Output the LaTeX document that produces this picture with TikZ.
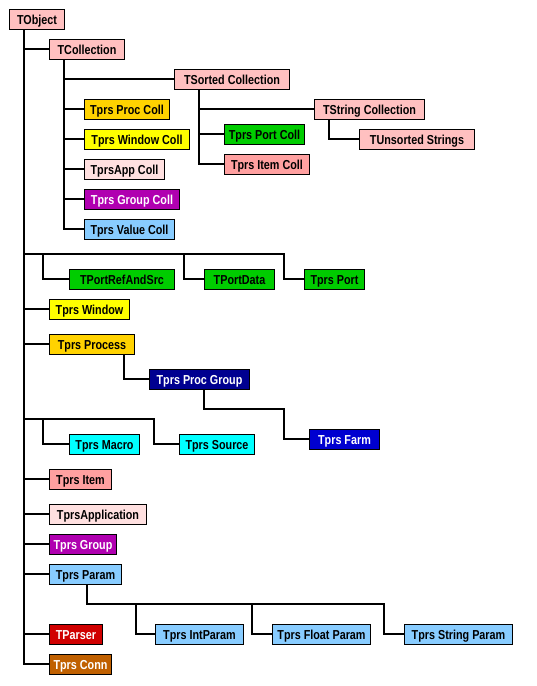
\documentclass[tikz,border=0pt]{standalone}
\usepackage{fontspec}
\setmainfont{Liberation Sans}[FakeStretch=0.83]
\definecolor{cpink}{HTML}{FFC0C0}
\definecolor{cgold}{HTML}{FFD200}
\definecolor{cyel}{HTML}{FFFF00}
\definecolor{clpink}{HTML}{FFE0E0}
\definecolor{cmag}{HTML}{B000B0}
\definecolor{cblue}{HTML}{88CCFF}
\definecolor{cgreen}{HTML}{00CC00}
\definecolor{csalmon}{HTML}{FFA0A0}
\definecolor{cnavy}{HTML}{000090}
\definecolor{croyal}{HTML}{0000D0}
\definecolor{ccyan}{HTML}{00FFFF}
\definecolor{cred}{HTML}{D00000}
\definecolor{cbrown}{HTML}{C06000}
\tikzset{
  cls/.style={draw=black, line width=1pt, anchor=west, minimum height=20pt, inner sep=0pt,
    text height=13.5pt, text depth=2pt,
    font=\fontsize{13}{15}\selectfont\bfseries, text=black},
  wtext/.style={text=white},
  conn/.style={line width=2.2pt, line join=miter}
}
\begin{document}
\begin{tikzpicture}[x=1pt,y=-1pt]
\useasboundingbox[fill=white] (0,0) rectangle (536,686);
% nodes
\node[cls,fill=cpink,minimum width=55pt] (TObject) at (9,19) {TObject};
\node[cls,fill=cpink,minimum width=75pt] (TCollection) at (49,49) {TCollection};
\node[cls,fill=cpink,minimum width=115pt] (TSortedCollection) at (174,79) {TSorted Collection};
\node[cls,fill=cgold,minimum width=85pt] (TprsProcColl) at (84,109) {Tprs Proc Coll};
\node[cls,fill=cyel,minimum width=105pt] (TprsWindowColl) at (84,139) {Tprs Window Coll};
\node[cls,fill=clpink,minimum width=80pt] (TprsAppColl) at (84,169) {TprsApp Coll};
\node[cls,fill=cmag,wtext,minimum width=95pt] (TprsGroupColl) at (84,199) {Tprs Group Coll};
\node[cls,fill=cblue,minimum width=90pt] (TprsValueColl) at (84,229) {Tprs Value Coll};
\node[cls,fill=cpink,minimum width=110pt] (TStringCollection) at (314,109) {TString Collection};
\node[cls,fill=cpink,minimum width=115pt] (TUnsortedStrings) at (359,139) {TUnsorted Strings};
\node[cls,fill=cgreen,minimum width=80pt] (TprsPortColl) at (224,134) {Tprs Port Coll};
\node[cls,fill=csalmon,minimum width=85pt] (TprsItemColl) at (224,164) {Tprs Item Coll};
\node[cls,fill=cgreen,minimum width=105pt] (TPortRefAndSrc) at (69,279) {TPortRefAndSrc};
\node[cls,fill=cgreen,minimum width=70pt] (TPortData) at (204,279) {TPortData};
\node[cls,fill=cgreen,minimum width=60pt] (TprsPort) at (304,279) {Tprs Port};
\node[cls,fill=cyel,minimum width=80pt] (TprsWindow) at (49,309) {Tprs Window};
\node[cls,fill=cgold,minimum width=85pt] (TprsProcess) at (49,344) {Tprs Process};
\node[cls,fill=cnavy,wtext,minimum width=100pt] (TprsProcGroup) at (149,379) {Tprs Proc Group};
\node[cls,fill=croyal,wtext,minimum width=70pt] (TprsFarm) at (309,439) {Tprs Farm};
\node[cls,fill=ccyan,minimum width=70pt] (TprsMacro) at (69,444) {Tprs Macro};
\node[cls,fill=ccyan,minimum width=75pt] (TprsSource) at (179,444) {Tprs Source};
\node[cls,fill=csalmon,minimum width=62pt] (TprsItem) at (49,479) {Tprs Item};
\node[cls,fill=clpink,minimum width=97pt] (TprsApplication) at (49,514) {TprsApplication};
\node[cls,fill=cmag,wtext,minimum width=67pt] (TprsGroup) at (49,544) {Tprs Group};
\node[cls,fill=cblue,minimum width=72pt] (TprsParam) at (49,574) {Tprs Param};
\node[cls,fill=cblue,minimum width=88pt] (TprsIntParam) at (155,634) {Tprs IntParam};
\node[cls,fill=cblue,minimum width=98pt] (TprsFloatParam) at (272,634) {Tprs Float Param};
\node[cls,fill=cblue,minimum width=108pt] (TprsStringParam) at (404,634) {Tprs String Param};
\node[cls,fill=cred,wtext,minimum width=53pt] (TParser) at (49,634) {TParser};
\node[cls,fill=cbrown,wtext,minimum width=62pt] (TprsConn) at (49,664) {Tprs Conn};
% junction coordinates
\coordinate (tx) at ([xshift=15pt]TObject.south west);
\coordinate (barA) at (284,254);
\coordinate (barAa) at (43,254);
\coordinate (barAb) at (184,254);
\coordinate (barB) at (154,419);
\coordinate (barBa) at (43,419);
\coordinate (pg) at (284,409);
\coordinate (parBar) at (384,604);
\coordinate (parA) at (136,604);
\coordinate (parB) at (252,604);
% trunk
\draw[conn] (tx) |- (TprsConn.west);
\foreach \n in {TCollection,TprsWindow,TprsProcess,TprsItem,TprsApplication,TprsGroup,TprsParam,TParser}
  \draw[conn] (tx |- \n.west) -- (\n.west);
\draw[conn] (tx |- barA) -- (barA) |- (TprsPort.west);
\draw[conn] (barAa) |- (TPortRefAndSrc.west);
\draw[conn] (barAb) |- (TPortData.west);
\draw[conn] (tx |- barB) -- (barB) |- (TprsSource.west);
\draw[conn] (barBa) |- (TprsMacro.west);
% TCollection
\coordinate (cx) at ([xshift=15pt]TCollection.south west);
\draw[conn] (cx) |- (TprsValueColl.west);
\foreach \n in {TSortedCollection,TprsProcColl,TprsWindowColl,TprsAppColl,TprsGroupColl}
  \draw[conn] (cx |- \n.west) -- (\n.west);
% TSortedCollection
\coordinate (sx) at ([xshift=25pt]TSortedCollection.south west);
\draw[conn] (sx) |- (TprsItemColl.west);
\foreach \n in {TStringCollection,TprsPortColl}
  \draw[conn] (sx |- \n.west) -- (\n.west);
% TStringCollection
\draw[conn] ([xshift=15pt]TStringCollection.south west) |- (TUnsortedStrings.west);
% TprsProcess
\draw[conn] ([xshift=75pt]TprsProcess.south west) |- (TprsProcGroup.west);
% TprsProcGroup
\draw[conn] ([xshift=55pt]TprsProcGroup.south west) |- (pg) |- (TprsFarm.west);
% TprsParam
\draw[conn] ([xshift=38pt]TprsParam.south west) |- (parBar) |- (TprsStringParam.west);
\draw[conn] (parA) |- (TprsIntParam.west);
\draw[conn] (parB) |- (TprsFloatParam.west);
\end{tikzpicture}
\end{document}
